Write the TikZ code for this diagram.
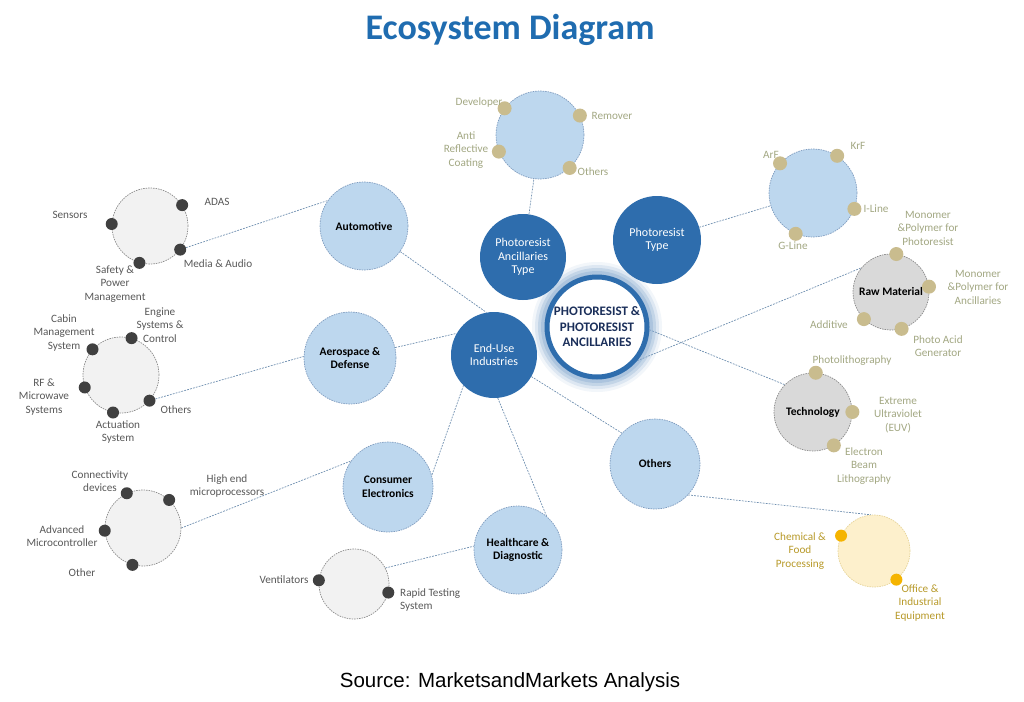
\documentclass[tikz,border=0pt]{standalone}
\usepackage{fontspec}
\setmainfont{Carlito}
\newfontfamily\srcfont{Liberation Sans}
\usetikzlibrary{calc,backgrounds}
\definecolor{dkblue}{HTML}{2E6DAD}
\definecolor{ltblue}{HTML}{BDD7EE}
\definecolor{ltbord}{HTML}{7F9CBF}
\definecolor{gyfill}{HTML}{D9D9D9}
\definecolor{gybord}{HTML}{8C8C8C}
\definecolor{sgfill}{HTML}{F2F2F2}
\definecolor{yfill}{HTML}{FDF0CC}
\definecolor{ybord}{HTML}{E6D49A}
\definecolor{dkdot}{HTML}{404040}
\definecolor{tandot}{HTML}{C9BC8E}
\definecolor{ydot}{HTML}{F5B400}
\definecolor{labgray}{HTML}{595959}
\definecolor{labtan}{HTML}{A3A883}
\definecolor{labyel}{HTML}{B89A2A}
\definecolor{lnc}{HTML}{6F8FB0}
\definecolor{titleblue}{HTML}{1F6CB0}
\definecolor{centtext}{HTML}{1B2F5A}
\begin{document}
\begin{tikzpicture}[x=1pt,y=-1pt,
  conn/.style={draw=lnc, line width=0.7pt, dash pattern=on 1.8pt off 1.2pt},
  bigc/.style={circle, inner sep=0pt, align=center},
  darkc/.style={bigc, fill=dkblue, text=white, font=\fontsize{12}{13.5}\selectfont},
  lightc/.style={bigc, fill=ltblue, draw=ltbord, line width=0.7pt, dash pattern=on 1.5pt off 1pt, font=\bfseries\fontsize{11.5}{13.5}\selectfont},
  grayc/.style={lightc, fill=gyfill, draw=gybord},
  subg/.style={bigc, fill=sgfill, draw=gybord, line width=0.7pt, dash pattern=on 1.5pt off 1pt},
  subb/.style={subg, fill=ltblue, draw=ltbord},
  suby/.style={subg, fill=yfill, draw=ybord},
  dotd/.style={circle, fill=dkdot, inner sep=0pt, minimum size=12pt},
  dott/.style={circle, fill=tandot, inner sep=0pt, minimum size=14pt},
  doty/.style={circle, fill=ydot, inner sep=0pt, minimum size=12pt},
  labg/.style={align=center, text=labgray, font=\fontsize{11.2}{13.5}\selectfont, inner sep=0pt},
  labt/.style={labg, text=labtan},
  laby/.style={labg, text=labyel},
]
\useasboundingbox (0,0) rectangle (1024,701);

% titles
\node[font=\bfseries\fontsize{36}{39}\selectfont, text=titleblue] (title) at (510,30) {Ecosystem Diagram};
\node[font=\srcfont\fontsize{20.5}{24}\selectfont] (src) at (510,682) {Source: MarketsandMarkets Analysis};

% glow around the centre
\foreach \r/\o in {65/0.10, 62/0.18, 59/0.28, 56/0.35} {
  \fill[dkblue!60, opacity=\o] (597,327) circle (\r pt);
}

% main circles
\node[bigc, fill=white, draw=dkblue, line width=5pt, minimum size=100pt, text=centtext, font=\bfseries\fontsize{13}{15.5}\selectfont] (central) at (597,327) {PHOTORESIST \&\\PHOTORESIST\\ANCILLARIES};
\node[darkc, minimum size=86pt] (anc) at (523,257) {Photoresist\\Ancillaries\\Type};
\node[darkc, minimum size=88pt] (ptype) at (657,240) {Photoresist\\Type};
\node[darkc, minimum size=86pt] (enduse) at (494,355) {End-Use\\Industries};

\node[lightc, minimum size=88pt] (auto) at (364,226) {Automotive};
\node[lightc, minimum size=92pt] (aero) at (350,358) {Aerospace \&\\Defense};
\node[lightc, minimum size=90pt] (cons) at (388,487) {Consumer\\Electronics};
\node[lightc, minimum size=88pt] (health) at (518,550) {Healthcare \&\\Diagnostic};
\node[lightc, minimum size=90pt] (others) at (655,464) {Others};
\node[grayc, minimum size=76pt] (raw) at (891,292) {Raw Material};
\node[grayc, minimum size=78pt] (tech) at (813,412) {Technology};

% sub circles
\node[subb, minimum size=88pt] (ptsub) at (813,193) {};
\node[subb, minimum size=88pt] (ancsub) at (540,135) {};
\node[subg, minimum size=76pt] (autosub) at (150,226) {};
\node[subg, minimum size=76pt] (aerosub) at (121,375) {};
\node[subg, minimum size=76pt] (conssub) at (143,528) {};
\node[subg, minimum size=70pt] (healthsub) at (354,584) {};
\node[suby, minimum size=72pt] (othsub) at (874,551) {};

% dots
\node[dotd] (a1) at (autosub.33) {};
\node[dotd] (a2) at (autosub.177) {};
\node[dotd] (a3) at (autosub.-38) {};
\node[dotd] (a4) at (autosub.-106) {};
\node[dotd] (b1) at (aerosub.74) {};
\node[dotd] (b2) at (aerosub.138) {};
\node[dotd] (b3) at (aerosub.199) {};
\node[dotd] (b4) at (aerosub.258) {};
\node[dotd] (b5) at (aerosub.318) {};
\node[dotd] (c1) at (conssub.115) {};
\node[dotd] (c2) at (conssub.47) {};
\node[dotd] (c3) at (conssub.184) {};
\node[dotd] (c4) at (conssub.254) {};
\node[dotd] (h1) at (healthsub.174) {};
\node[dotd] (h2) at (healthsub.-14) {};
\node[dott] (n1) at (ancsub.143) {};
\node[dott] (n2) at (ancsub.26) {};
\node[dott] (n3) at (ancsub.202) {};
\node[dott] (n4) at (ancsub.312) {};
\node[dott] (p1) at (ptsub.138) {};
\node[dott] (p2) at (ptsub.57) {};
\node[dott] (p3) at (ptsub.339) {};
\node[dott] (p4) at (ptsub.247) {};
\node[dott] (r1) at (raw.82) {};
\node[dott] (r2) at (raw.8) {};
\node[dott] (r3) at (raw.225) {};
\node[dott] (r4) at (raw.286) {};
\node[dott] (t1) at (tech.86) {};
\node[dott] (t2) at (tech.0) {};
\node[dott] (t3) at (tech.302) {};
\node[doty] (y1) at (othsub.155) {};
\node[doty] (y2) at (othsub.308) {};

% labels
\node[labg] (la1) at (217,202) {ADAS};
\node[labg] (la2) at (70,215) {Sensors};
\node[labg] (la3) at (218,264) {Media \& Audio};
\node[labg] (la4) at (115,284) {Safety \&\\Power\\Management};
\node[labg] (lb1) at (160,325) {Engine\\Systems \&\\Control};
\node[labg] (lb2) at (64,333) {Cabin\\Management\\System};
\node[labg] (lb3) at (44,397) {RF \&\\Microwave\\Systems};
\node[labg] (lb4) at (118,432) {Actuation\\System};
\node[labg] (lb5) at (176,410) {Others};
\node[labg] (lc1) at (100,481) {Connectivity\\devices};
\node[labg] (lc2) at (227,486) {High end\\microprocessors};
\node[labg] (lc3) at (62,536) {Advanced\\Microcontroller};
\node[labg] (lc4) at (82,573) {Other};
\node[labg] (lh1) at (284,580) {Ventilators};
\node[labg, anchor=west, align=left] (lh2) at (400,600) {Rapid Testing\\System};
\node[labt] (ln1) at (479,103) {Developer};
\node[labt] (ln2) at (612,116) {Remover};
\node[labt] (ln3) at (466,150) {Anti\\Reflective\\Coating};
\node[labt] (ln4) at (593,172) {Others};
\node[labt] (lp1) at (771,155) {ArF};
\node[labt] (lp2) at (858,146) {KrF};
\node[labt] (lp3) at (876,209) {I-Line};
\node[labt] (lp4) at (793,246) {G-Line};
\node[labt] (lr1) at (928,228) {Monomer\\\&Polymer for\\Photoresist};
\node[labt] (lr2) at (978,287) {Monomer\\\&Polymer for\\Ancillaries};
\node[labt] (lr3) at (829,325) {Additive};
\node[labt] (lr4) at (938,346) {Photo Acid\\Generator};
\node[labt] (lt1) at (852,361) {Photolithography};
\node[labt] (lt2) at (898,415) {Extreme\\Ultraviolet\\(EUV)};
\node[labt] (lt3) at (864,466) {Electron\\Beam\\Lithography};
\node[laby] (ly1) at (800,551) {Chemical \&\\Food\\Processing};
\node[laby] (ly2) at (920,603) {Office \&\\Industrial\\Equipment};

\begin{pgfonlayer}{background}
\fill[white] (0,0) rectangle (1024,701);
\draw[conn] (anc) -- (ancsub);
\draw[conn] (ptype) -- (ptsub);
\draw[conn] (central.-40) -- (raw.141);
\draw[conn] (central.-3) -- (tech.136);
\draw[conn] (auto) -- (enduse.100);
\draw[conn] (aero) -- (enduse.150);
\draw[conn] (enduse.225) -- (cons.15);
\draw[conn] (enduse.-85) -- (health.50);
\draw[conn] (enduse.-30) -- (others.137);
\draw[conn] (a3) -- (auto.145);
\draw[conn] (b5) -- (aero.178);
\draw[conn] (conssub.0) -- (cons.145);
\draw[conn] (healthsub.27) -- (health.175);
\draw[conn] (others.-43) -- (othsub.95);
\end{pgfonlayer}
\end{tikzpicture}
\end{document}
